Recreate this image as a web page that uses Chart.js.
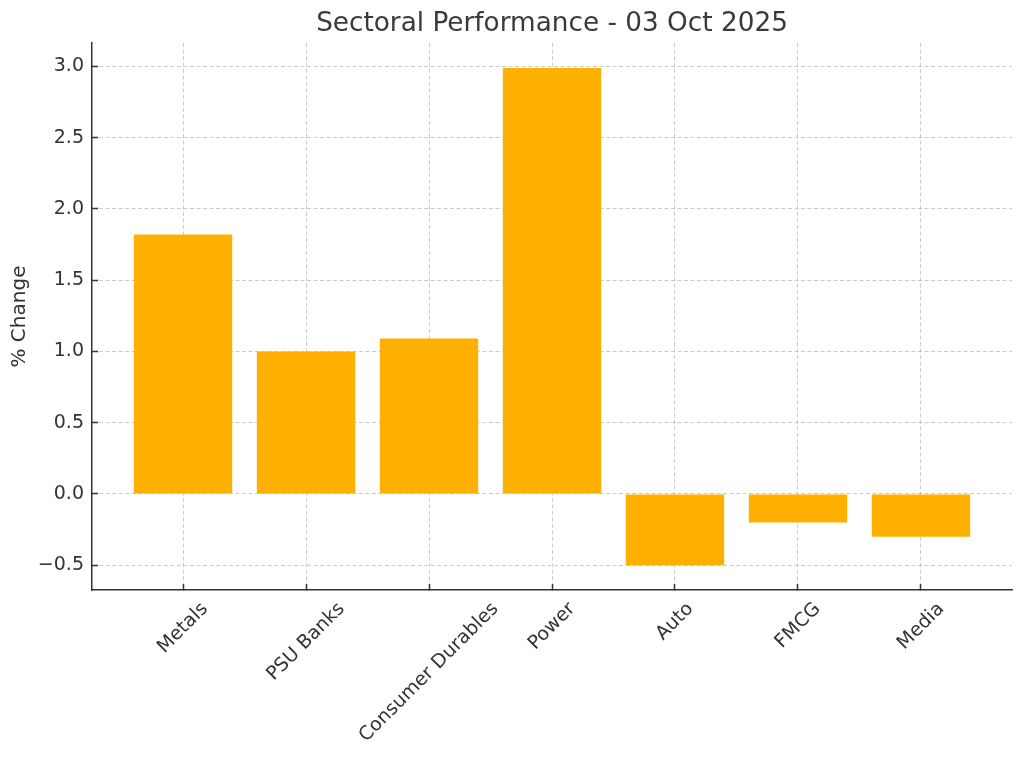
<!DOCTYPE html>
<html>
<head>
<meta charset="utf-8">
<script src="https://cdn.jsdelivr.net/npm/chart.js@4.4.1/dist/chart.umd.min.js"></script>
<style>
  html, body { margin: 0; padding: 0; background: #fff; }
  #wrap { width: 1024px; height: 760px; }
</style>
</head>
<body>
<div id="wrap"><canvas id="c" width="1024" height="760"></canvas></div>
<script>
const titleText = 'Sectoral Performance - 03 Oct 2025';
const yAxisTitle = '% Change';
const categories = ['Metals', 'PSU Banks', 'Consumer Durables', 'Power', 'Auto', 'FMCG', 'Media'];
const changes = [1.82, 1.00, 1.09, 2.99, -0.50, -0.20, -0.30];
const yMin = -0.6745, yMax = 3.1645, yStep = 0.5;
const xMin = -0.74, xMax = 6.74;

const FONT = 'DejaVu Sans';
const TXT = '#333333';

function fmtY(v) {
  const s = Math.abs(v).toFixed(1);
  return (v < -1e-9 ? '\u2212' : '') + s;
}

const ctx = document.getElementById('c').getContext('2d');
new Chart(ctx, {
  type: 'bar',
  data: {
    datasets: [{
      data: changes.map((v, i) => ({ x: i, y: v })),
      backgroundColor: '#FFB000',
      borderWidth: 0,
      barPercentage: 0.8,
      categoryPercentage: 1.0
    }]
  },
  options: {
    responsive: false,
    animation: false,
    layout: { padding: { left: 0, right: 12, top: 0, bottom: 0 } },
    plugins: {
      legend: { display: false },
      tooltip: { enabled: false },
      title: {
        display: true,
        text: titleText,
        fullSize: false,
        color: '#3a3a3a',
        font: { family: FONT, size: 26.3, weight: 'normal', lineHeight: 1.2 },
        padding: { top: 8, bottom: 3.5 }
      }
    },
    scales: {
      x: {
        type: 'linear',
        min: xMin,
        max: xMax,
        z: 1,
        offset: false,
        grid: {
          offset: false,
          color: 'rgba(170,170,170,0.6)',
          lineWidth: 1,
          tickLength: -6,
          tickColor: '#333',
          tickWidth: 1.5
        },
        border: { display: true, color: '#333', width: 1.5, dash: [4, 2.5] },
        ticks: {
          stepSize: 1,
          includeBounds: false,
          autoSkip: false,
          minRotation: 45,
          maxRotation: 45,
          padding: 14,
          color: TXT,
          font: { family: FONT, size: 19 },
          callback: (v) => (Number.isInteger(v) && categories[v] !== undefined) ? categories[v] : ''
        },
        afterFit(scale) {
          scale.height = 170;
          scale.paddingLeft = 0;
          scale.paddingRight = 0;
          if (!scale._centered) {
            scale._centered = true;
            const orig = scale._computeLabelItems;
            scale._computeLabelItems = function (ca) {
              const items = orig.call(this, ca);
              const c = this.ctx;
              c.save();
              items.forEach(it => {
                c.font = it.font.string;
                const w = c.measureText(it.label).width;
                it.options.translation[0] += w * Math.SQRT1_2 / 2;
              });
              c.restore();
              return items;
            };
          }
        }
      },
      y: {
        type: 'linear',
        min: yMin,
        max: yMax,
        z: 1,
        grid: {
          color: 'rgba(170,170,170,0.6)',
          lineWidth: 1,
          tickLength: -6,
          tickColor: '#333',
          tickWidth: 1.5
        },
        border: { display: true, color: '#333', width: 1.5, dash: [4, 2.5] },
        ticks: {
          stepSize: yStep,
          includeBounds: false,
          padding: 14,
          color: TXT,
          font: { family: FONT, size: 19 },
          callback: (v) => fmtY(v)
        },
        title: {
          display: true,
          text: yAxisTitle,
          color: TXT,
          font: { family: FONT, size: 20 },
          padding: { top: 8, bottom: 0 }
        },
        afterFit(scale) {
          scale.width = 92;
          scale.paddingTop = 0;
          scale.paddingBottom = 0;
        }
      }
    }
  }
});
</script>
</body>
</html>
